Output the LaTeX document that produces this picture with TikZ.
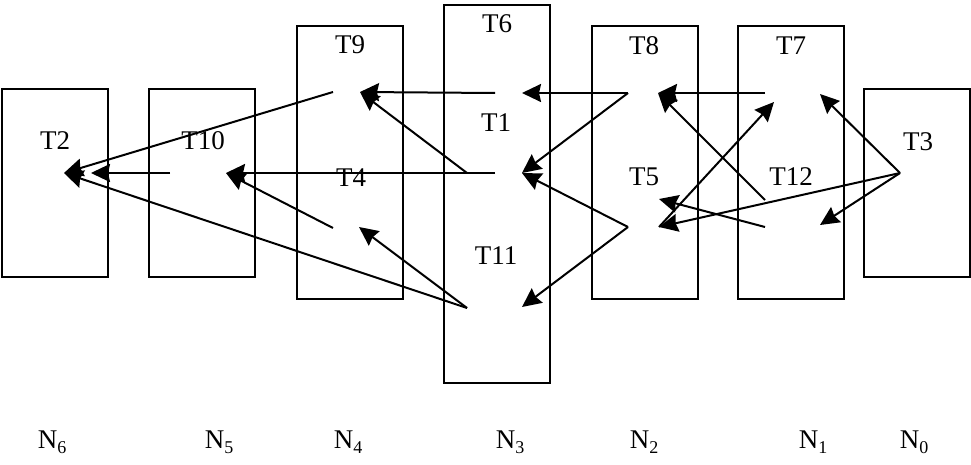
\documentclass[tikz,border=0pt]{standalone}
\usepackage{fontspec}
\setmainfont{Liberation Serif}
\usetikzlibrary{arrows.meta}
\newcommand{\Nlab}[1]{N\raisebox{-5pt}{\fontsize{18}{18}\selectfont #1}}
\begin{document}
\begin{tikzpicture}[x=1pt,y=-1pt,
  col/.style={draw, line width=2pt, minimum width=106pt, inner sep=0pt, outer sep=0pt},
  lab/.style={font=\fontsize{27}{32}\selectfont, inner sep=0pt},
  nlab/.style={font=\fontsize{27}{32}\selectfont, inner sep=0pt, anchor=base},
  arr/.style={line width=2pt, -{Stealth[length=19pt,width=18pt,inset=2pt]}}]
\useasboundingbox (0,0) rectangle (971,465);
% columns
\node[col, minimum height=188pt] (B6) at (55,183) {};
\node[col, minimum height=188pt] (B5) at (202,183) {};
\node[col, minimum height=273pt] (B4) at (349.5,162.5) {};
\node[col, minimum height=378pt] (B3) at (496.5,194) {};
\node[col, minimum height=273pt] (B2) at (644.5,162.5) {};
\node[col, minimum height=273pt] (B1) at (791,162.5) {};
\node[col, minimum height=188pt] (B0) at (917,183) {};
% task labels
\node[lab] (T2) at (55,141) {T2};
\node[lab] (T10) at (203,141) {T10};
\node[lab] (T9) at (350,45) {T9};
\node[lab] (T4) at (351,178) {T4};
\node[lab] (T6) at (497,24) {T6};
\node[lab] (T1) at (496,123) {T1};
\node[lab] (T11) at (496,256) {T11};
\node[lab] (T8) at (644,46) {T8};
\node[lab] (T5) at (644,177) {T5};
\node[lab] (T7) at (791,46) {T7};
\node[lab] (T12) at (791,177) {T12};
\node[lab] (T3) at (918,142) {T3};
% level labels
\node[nlab] (N6) at (52,448) {\Nlab{6}};
\node[nlab] (N5) at (219,448) {\Nlab{5}};
\node[nlab] (N4) at (348,448) {\Nlab{4}};
\node[nlab] (N3) at (510,448) {\Nlab{3}};
\node[nlab] (N2) at (644,448) {\Nlab{2}};
\node[nlab] (N1) at (813,448) {\Nlab{1}};
\node[nlab] (N0) at (914,448) {\Nlab{0}};
% connector points
\coordinate (a1) at (64,173);
\coordinate (a2) at (91,173);
\coordinate (bT) at (170,173);
\coordinate (bH) at (226,173);
\coordinate (cuT) at (333,92);
\coordinate (cuH) at (360,92);
\coordinate (clT) at (333,228);
\coordinate (clH) at (359,227);
\coordinate (duT) at (495,93);
\coordinate (duH) at (522,93);
\coordinate (dmT) at (495,173);
\coordinate (dmS) at (467,173);
\coordinate (dmH) at (522,173);
\coordinate (dlT) at (467,308);
\coordinate (dlH) at (522,307);
\coordinate (euT) at (628,93);
\coordinate (euH) at (658,93);
\coordinate (elT) at (628,227);
\coordinate (elH) at (659,199);
\coordinate (elP) at (659,227);
\coordinate (fuT) at (765,93);
\coordinate (fuH) at (774,102);
\coordinate (fuH2) at (820,94);
\coordinate (fmT) at (765,200);
\coordinate (flT) at (765,227);
\coordinate (flH) at (820,225);
\coordinate (g) at (900,173);
% connectors
\draw[arr] (cuT) -- (a1);
\draw[arr] (dlT) -- (a1);
\draw[arr] (bT) -- (a2);
\draw[arr] (dmT) -- (bH);
\draw[arr] (clT) -- (bH);
\draw[arr] (duT) -- (cuH);
\draw[arr] (dmS) -- (cuH);
\draw[arr] (dlT) -- (clH);
\draw[arr] (euT) -- (duH);
\draw[arr] (euT) -- (dmH);
\draw[arr] (elT) -- (dmH);
\draw[arr] (elT) -- (dlH);
\draw[arr] (fuT) -- (euH);
\draw[arr] (fmT) -- (euH);
\draw[arr] (flT) -- (elH);
\draw[arr] (elP) -- (fuH);
\draw[arr] (g) -- (fuH2);
\draw[arr] (g) -- (flH);
\draw[arr] (g) -- (elP);
\end{tikzpicture}
\end{document}
